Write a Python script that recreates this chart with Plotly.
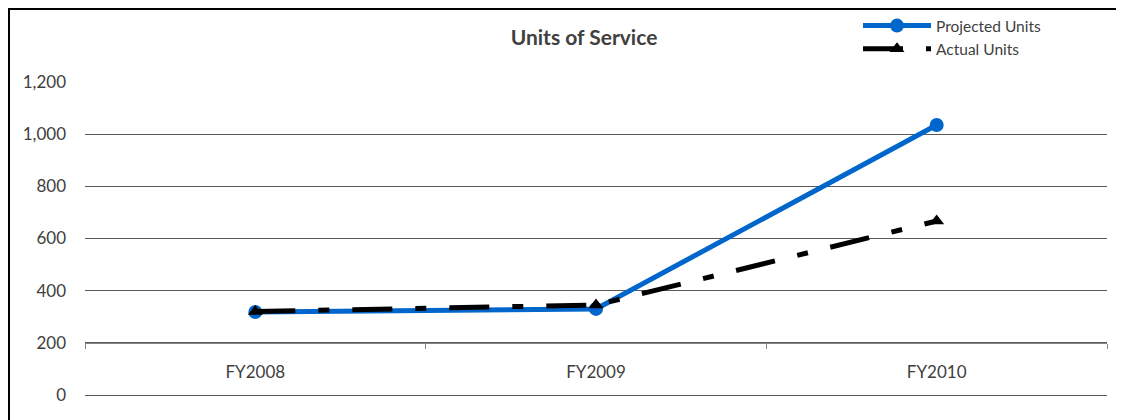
import plotly.graph_objects as go

categories = ["FY2008", "FY2009", "FY2010"]
projected_units = [318, 330, 1035]
actual_units = [320, 345, 667]
y_ticks = [0, 200, 400, 600, 800, 1000, 1200]

# page is offset by the body margin of 8px
OFF = 8
W, H = 1124, 420
PL, PR, PT, PB = 85, 1107, 82, 395  # plot area in page pixels
L = PL - OFF
T = PT - OFF
R = W - (PR - OFF)
B = H - (PB - OFF)
pw, ph = W - L - R, H - T - B

def px_x(x):
    return (x - OFF - L) / pw

def px_y(y):
    return (H - B - (y - OFF)) / ph

font = "Lato, 'Open Sans', sans-serif"

fig = go.Figure()
fig.add_trace(go.Scatter(
    x=categories, y=projected_units, name="Projected Units", mode="lines+markers",
    line=dict(color="#0066CC", width=5),
    marker=dict(symbol="circle", size=14, color="#0066CC"),
))
fig.add_trace(go.Scatter(
    x=categories, y=actual_units, name="Actual Units", mode="lines+markers",
    line=dict(color="#000000", width=5, dash="40px,23px,11px,23px"),
    marker=dict(symbol="triangle-up", size=13, color="#000000"),
))

fig.update_layout(
    width=W, height=H,
    margin=dict(l=L, r=R, t=T, b=B, autoexpand=False),
    paper_bgcolor="white", plot_bgcolor="white",
    font=dict(family=font, size=17, color="#404040"),
    title=dict(text="<b>Units of Service</b>", x=px_x(584), xref="paper", xanchor="center",
               y=1 - (38 - OFF) / H, yanchor="middle", font=dict(size=21, color="#404040", family=font)),
    legend=dict(x=px_x(858), y=px_y(9), xanchor="left", yanchor="top",
                font=dict(size=15.5, color="#404040", family=font),
                bgcolor="rgba(0,0,0,0)", tracegroupgap=0, itemwidth=68),
    showlegend=True,
)
fig.update_xaxes(
    type="category", range=[-0.5, 2.5],
    anchor="free", position=200 / 1200,
    showline=True, linecolor="#868686", linewidth=1,
    ticks="outside", tickson="boundaries", ticklen=5, tickcolor="#868686",
    showgrid=False, ticklabelstandoff=14,
    tickfont=dict(size=17, color="#404040"),
)
fig.update_yaxes(
    range=[0, 1200], tickvals=y_ticks, tickformat=",",
    showgrid=True, gridcolor="#595959", gridwidth=1,
    zeroline=True, zerolinecolor="#595959", zerolinewidth=1,
    showline=False, ticks="", ticklabelstandoff=18,
    tickfont=dict(size=17, color="#404040"),
)
fig.add_shape(type="rect", xref="paper", yref="paper",
              x0=px_x(9), x1=px_x(1117), y0=px_y(9), y1=px_y(440),
              line=dict(color="black", width=2), fillcolor="rgba(0,0,0,0)", layer="below")

fig.write_html("out.html")
